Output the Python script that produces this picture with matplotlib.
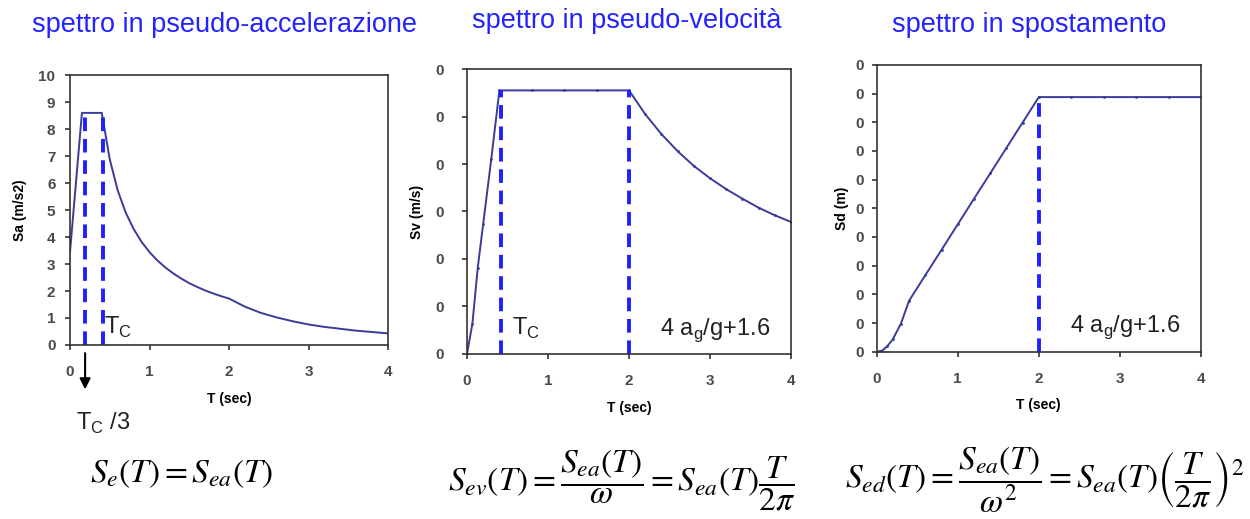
import matplotlib.pyplot as plt
from matplotlib.ticker import FormatStrFormatter

plt.rcParams['font.family'] = ['Liberation Sans', 'DejaVu Sans']

# periods (s) and spectral ordinates
T_sa = [0, 0.15, 0.4, 0.5, 0.6, 0.7, 0.8, 0.9, 1.0, 1.1, 1.2, 1.3, 1.4, 1.5,
        1.6, 1.7, 1.8, 1.9, 2.0, 2.2, 2.4, 2.6, 2.8, 3.0, 3.2, 3.4, 3.6, 3.8, 4.0]
Sa = [3.44, 8.6, 8.6, 6.88, 5.73, 4.91, 4.30, 3.82, 3.44, 3.13, 2.87, 2.65, 2.46,
      2.29, 2.15, 2.02, 1.91, 1.81, 1.72, 1.42, 1.19, 1.02, 0.88, 0.76, 0.67,
      0.60, 0.53, 0.48, 0.43]

T_sv = [0, 0.067, 0.133, 0.2, 0.3, 0.4, 0.8, 1.2, 1.6, 2.0, 2.2, 2.4, 2.6, 2.8,
        3.0, 3.2, 3.4, 3.6, 3.8, 4.0]
Sv = [0, 0.064, 0.182, 0.274, 0.411, 0.555, 0.555, 0.555, 0.555, 0.555, 0.505,
      0.463, 0.427, 0.396, 0.37, 0.347, 0.327, 0.308, 0.292, 0.278]

T_sd = [0, 0.067, 0.133, 0.2, 0.3, 0.4, 0.6, 0.8, 1.0, 1.2, 1.4, 1.6, 1.8, 2.0,
        2.4, 2.8, 3.2, 3.6, 4.0]
Sd = [0, 0.0007, 0.0039, 0.0087, 0.0196, 0.0355, 0.0533, 0.071, 0.0888, 0.1066,
      0.1243, 0.1421, 0.1598, 0.1776, 0.1776, 0.1776, 0.1776, 0.1776, 0.1776]

TB = 0.19
TC = 0.41
TD = 2.0

titles = ['spettro in pseudo-accelerazione', 'spettro in pseudo-velocità',
          'spettro in spostamento']
ylabels = ['Sa (m/s2)', 'Sv (m/s)', 'Sd (m)']

curve_col = '#3b3b9c'
dash_col = '#1f1fff'
tick_col = '#4a4a4a'
note_col = '#222222'


def style_axis(ax, ylabel, ymax, ystep, ypad, ylabpad):
    ax.set_xlim(0, 4)
    ax.set_ylim(0, ymax)
    ax.set_xticks([0, 1, 2, 3, 4])
    nt = int(round(ymax / ystep))
    ax.set_yticks([i * ystep for i in range(nt + 1)])
    ax.yaxis.set_major_formatter(FormatStrFormatter('%d'))
    for s in ax.spines.values():
        s.set_color('#333333')
        s.set_linewidth(1.2)
    ax.tick_params(direction='out', length=3.5, width=1.2, color='#333333',
                   labelcolor=tick_col, labelsize=11)
    ax.tick_params(axis='x', pad=11)
    ax.tick_params(axis='y', pad=ypad)
    for lab in ax.get_xticklabels() + ax.get_yticklabels():
        lab.set_fontweight('bold')
    ax.set_xlabel('T (sec)', fontsize=10, fontweight='bold', labelpad=9)
    ax.set_ylabel(ylabel, fontsize=10, fontweight='bold', labelpad=ylabpad)


fig = plt.figure(figsize=(12.5, 5.19), dpi=100)
ax1 = fig.add_axes([0.056, 0.3353, 0.2544, 0.520])
ax2 = fig.add_axes([0.3736, 0.318, 0.2592, 0.549])
ax3 = fig.add_axes([0.7013, 0.3224, 0.2595, 0.5524])

dash = (0, (3.5, 2))

# pseudo-acceleration
ax1.plot(T_sa, Sa, color=curve_col, lw=1.4)
for t in (TB, TC):
    ax1.plot([t, t], [0, max(Sa)], color=dash_col, lw=2.8, ls=dash)
style_axis(ax1, ylabels[0], 10, 1, 7, 8)
ax1.text(0.43, 0.4, r'T$_\mathregular{C}$', fontsize=17, color=note_col)
ax1.annotate('', xy=(0.19, -1.75), xytext=(0.19, -0.2),
             arrowprops=dict(arrowstyle='-|>', color='black', lw=1.5,
                             mutation_scale=16),
             annotation_clip=False)

# pseudo-velocity
ax2.plot(T_sv, Sv, color=curve_col, lw=1.4, marker='.', ms=2)
for t in (TC + 0.01, TD):
    ax2.plot([t, t], [0, max(Sv)], color=dash_col, lw=2.8, ls=dash)
style_axis(ax2, ylabels[1], 0.6, 0.1, 13, 8)
ax2.text(0.55, 0.04, r'T$_\mathregular{C}$', fontsize=17, color=note_col)
ax2.text(2.38, 0.04, r'4 a$_\mathregular{g}$/g+1.6', fontsize=17, color=note_col)

# displacement
ax3.plot(T_sd, Sd, color=curve_col, lw=1.4, marker='.', ms=2)
ax3.plot([TD, TD], [0, max(Sd)], color=dash_col, lw=2.8, ls=dash)
style_axis(ax3, ylabels[2], 0.2, 0.02, 6, 4)
ax3.text(2.38, 0.0137, r'4 a$_\mathregular{g}$/g+1.6', fontsize=17, color=note_col)

title_x = [0.18, 0.501, 0.823]
title_y = [0.938, 0.946, 0.938]
for x, y, t in zip(title_x, title_y, titles):
    fig.text(x, y, t, ha='center', va='baseline', fontsize=19.5,
             color='#2323ff')

fig.text(0.061, 0.172, r'T$_\mathregular{C}$ /3', fontsize=17, color=note_col)

fs = 24
fig.text(0.072, 0.07, r'$S_e\left(T\right)=S_{ea}\left(T\right)$', fontsize=fs,
         math_fontfamily='stix')
fig.text(0.358, 0.075,
         r'$S_{ev}\left(T\right)=\dfrac{S_{ea}\left(T\right)}{\omega}'
         r'=S_{ea}\left(T\right)\dfrac{T}{2\pi}$',
         fontsize=fs, math_fontfamily='stix', va='center')
fig.text(0.676, 0.075,
         r'$S_{ed}\left(T\right)=\dfrac{S_{ea}\left(T\right)}{\omega^2}'
         r'=S_{ea}\left(T\right)\left(\dfrac{T}{2\pi}\right)^2$',
         fontsize=fs, math_fontfamily='stix', va='center')

fig.savefig('out.png', dpi=100)
